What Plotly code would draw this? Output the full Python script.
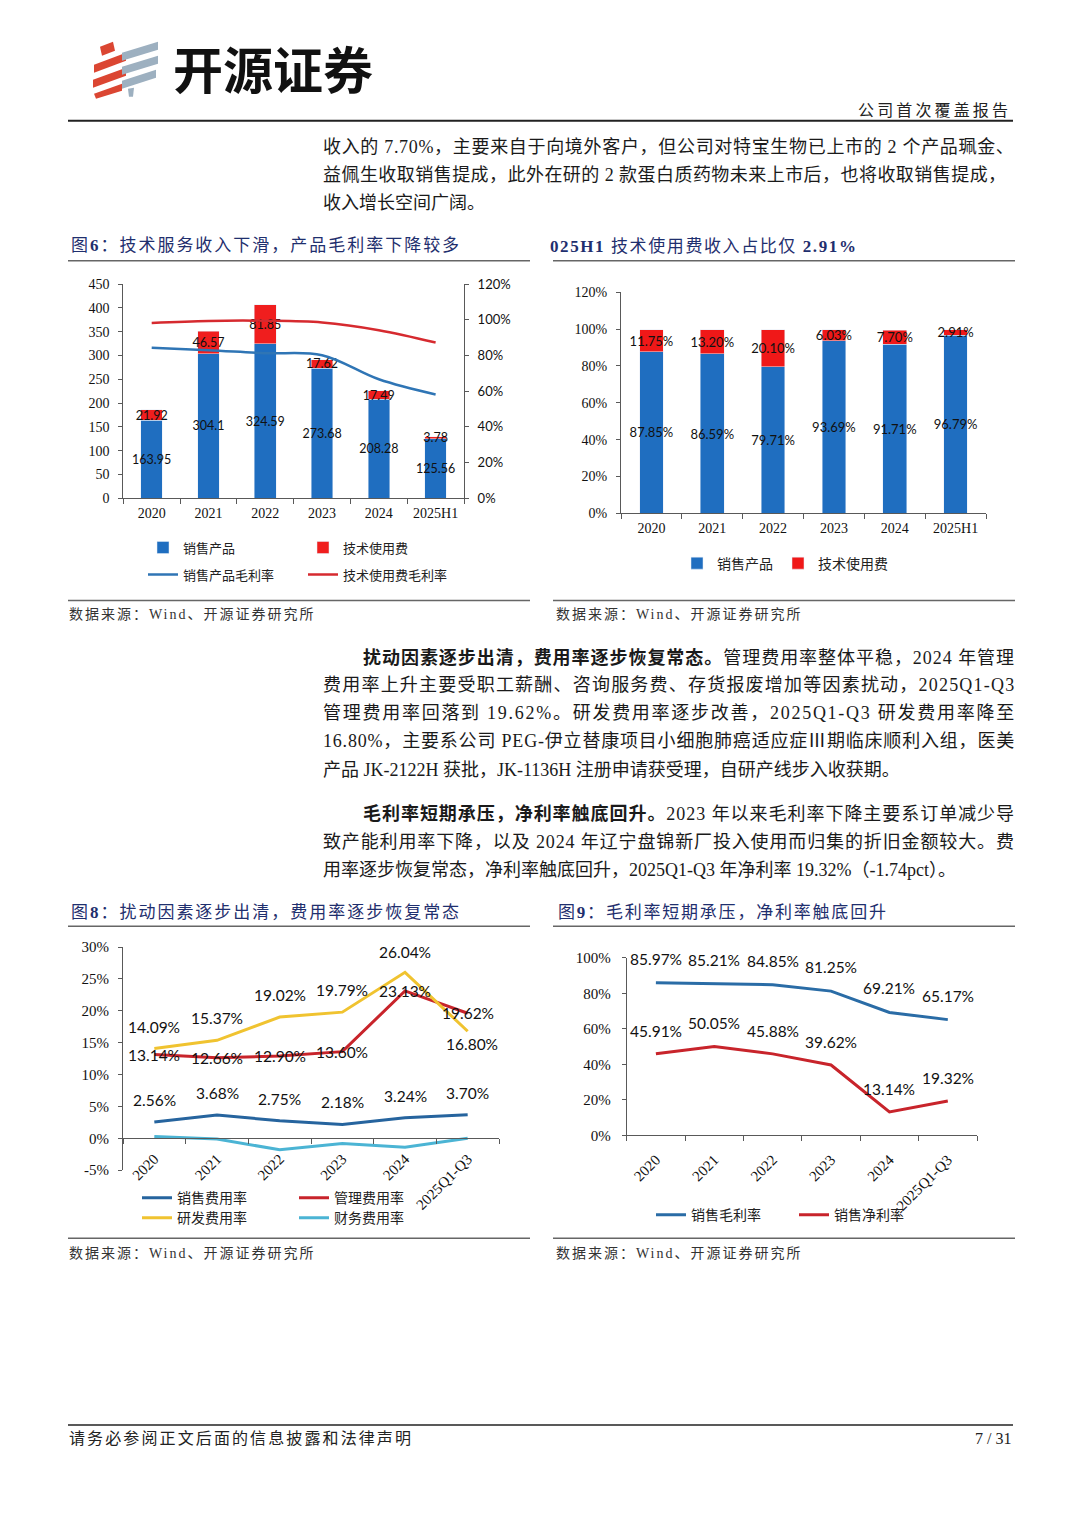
import re
import plotly.graph_objects as go

W, H = 1080, 1527
# vertical calibration of the rendered page (measured offset/scale of the capture)
Y_OFF, Y_SCALE = 7.2, 0.990
def px(x): return x / W
def py(y): return 1 - ((y - Y_OFF) / Y_SCALE) / H

SERIF = "Liberation Serif, Noto Sans CJK SC"
CJK = "Noto Sans CJK SC"
SANS = "Lato, Noto Sans CJK SC"
NAVY = "#1F2F6E"
AX = "#595959"
TXT = "#1a1a1a"

# ---------------- data ----------------
years6 = ['2020', '2021', '2022', '2023', '2024', '2025H1']
prod_rev = [163.95, 304.1, 324.59, 273.68, 208.28, 125.56]
tech_rev = [21.92, 46.57, 81.85, 17.62, 17.49, 3.78]
prod_gm = [84.4, 83.0, 81.3, 80.2, 66.7, 58.2]
tech_gm = [98.3, 99.4, 99.5, 98.5, 94.2, 87.3]

prod_share = [87.85, 86.59, 79.71, 93.69, 91.71, 96.79]
tech_share = [11.75, 13.20, 20.10, 6.03, 7.70, 2.91]

years8 = ['2020', '2021', '2022', '2023', '2024', '2025Q1-Q3']
sales_exp = [2.56, 3.68, 2.75, 2.18, 3.24, 3.70]
admin_exp = [13.14, 12.66, 12.90, 13.60, 23.13, 19.62]
rd_exp = [14.09, 15.37, 19.02, 19.79, 26.04, 16.80]
fin_exp = [0.3, -0.1, -1.8, -0.8, -1.4, 0.0]

gross_margin = [85.97, 85.21, 84.85, 81.25, 69.21, 65.17]
net_margin = [45.91, 50.05, 45.88, 39.62, 13.14, 19.32]

c6_left_vals = [0, 50, 100, 150, 200, 250, 300, 350, 400, 450]
c6_left_text = ['0', '50', '100', '150', '200', '250', '300', '350', '400', '450']
c6_right_vals = [0, 20, 40, 60, 80, 100, 120]
c6_right_text = ['0%', '20%', '40%', '60%', '80%', '100%', '120%']
c7_vals = [0, 20, 40, 60, 80, 100, 120]
c7_text = ['0%', '20%', '40%', '60%', '80%', '100%', '120%']
c8_vals = [-5, 0, 5, 10, 15, 20, 25, 30]
c8_text = ['-5%', '0%', '5%', '10%', '15%', '20%', '25%', '30%']
c9_vals = [0, 20, 40, 60, 80, 100]
c9_text = ['0%', '20%', '40%', '60%', '80%', '100%']

# ---------------- helpers ----------------
def text_width(s, size):
    s = re.sub(r'<[^>]+>', '', s)
    w = 0.0
    for ch in s:
        o = ord(ch)
        if o >= 0x2100: w += 1.0
        elif ch.isdigit(): w += 0.5
        elif ch in ' .,:;': w += 0.25
        elif ch == '%': w += 0.833
        elif ch in '-()': w += 0.333
        elif ch == 'J': w += 0.389
        elif ch == 'P': w += 0.556
        elif ch == 'E': w += 0.611
        elif ch == 'W': w += 0.944
        elif ch.isupper(): w += 0.722
        elif ch in 'ilt': w += 0.278
        elif ch == 'm': w += 0.778
        else: w += 0.5
    return w * size, len(s)

def spaced(s, size, target):
    w, n = text_width(s, size)
    ls = (target - w) / max(n - 1, 1)
    return f'<span style="letter-spacing:{ls:.2f}px">{s}</span>'

fig = go.Figure()

def add_text(x, y, text, size, family=SERIF, color=TXT, xanchor='left', target=None):
    if target:
        text = spaced(text, size, target)
    fig.add_annotation(x=px(x), y=py(y), xref='paper', yref='paper', text=text,
                       showarrow=False, xanchor=xanchor, yanchor='middle', align='left',
                       borderpad=0, font=dict(family=family, size=size, color=color))

def hline(x0, x1, y, color='#333', width=1.5):
    fig.add_shape(type='line', xref='paper', yref='paper', x0=px(x0), x1=px(x1),
                  y0=py(y), y1=py(y), line=dict(color=color, width=width))

def poly(points, color):
    d = 'M' + ' L'.join(f'{px(a):.5f},{py(b):.5f}' for a, b in points) + ' Z'
    fig.add_shape(type='path', xref='paper', yref='paper', path=d,
                  fillcolor=color, line=dict(width=0))

# ---------------- chart 6 ----------------
lbl6 = dict(family=SANS, size=12.5, color='#111')
fig.add_trace(go.Bar(x=years6, y=prod_rev, name='销售产品', marker_color='#1F6EC0', width=0.38,
                     text=[str(v) for v in prod_rev], textposition='inside', insidetextanchor='middle',
                     textangle=0, constraintext='none', textfont=lbl6,
                     xaxis='x', yaxis='y', legend='legend'))
fig.add_trace(go.Bar(x=years6, y=tech_rev, name='技术使用费', marker_color='#F01E1E', width=0.38,
                     text=[str(v) for v in tech_rev], textposition='inside', insidetextanchor='middle',
                     textangle=0, constraintext='none', textfont=lbl6,
                     xaxis='x', yaxis='y', legend='legend'))
fig.add_trace(go.Scatter(x=years6, y=prod_gm, name='销售产品毛利率', mode='lines',
                         line=dict(color='#2F75B5', width=2.5, shape='spline'),
                         xaxis='x', yaxis='y2', legend='legend2'))
fig.add_trace(go.Scatter(x=years6, y=tech_gm, name='技术使用费毛利率', mode='lines',
                         line=dict(color='#D62A2F', width=2.5, shape='spline'),
                         xaxis='x', yaxis='y2', legend='legend2'))

# ---------------- chart 7 ----------------
lbl7 = dict(family=SANS, size=13, color='#111')
fig.add_trace(go.Bar(x=years6, y=prod_share, name='销售产品', marker_color='#1F6EC0', width=0.39,
                     text=[f'{v:.2f}%' for v in prod_share], textposition='inside',
                     insidetextanchor='middle', textangle=0, constraintext='none', textfont=lbl7,
                     xaxis='x2', yaxis='y3', legend='legend3'))
fig.add_trace(go.Bar(x=years6, y=tech_share, name='技术使用费', marker_color='#F01818', width=0.39,
                     text=[f'{v:.2f}%' for v in tech_share], textposition='inside',
                     insidetextanchor='middle', textangle=0, constraintext='none', textfont=lbl7,
                     xaxis='x2', yaxis='y3', legend='legend3'))

# ---------------- chart 8 ----------------
fig.add_trace(go.Scatter(x=years8, y=sales_exp, name='销售费用率', mode='lines',
                         line=dict(color='#26649E', width=3), xaxis='x3', yaxis='y4', legend='legend4'))
fig.add_trace(go.Scatter(x=years8, y=admin_exp, name='管理费用率', mode='lines',
                         line=dict(color='#C8242B', width=3), xaxis='x3', yaxis='y4', legend='legend4'))
fig.add_trace(go.Scatter(x=years8, y=rd_exp, name='研发费用率', mode='lines',
                         line=dict(color='#F0C330', width=3), xaxis='x3', yaxis='y4', legend='legend5'))
fig.add_trace(go.Scatter(x=years8, y=fin_exp, name='财务费用率', mode='lines',
                         line=dict(color='#4BB4D4', width=3), xaxis='x3', yaxis='y4', legend='legend5'))

# ---------------- chart 9 ----------------
fig.add_trace(go.Scatter(x=years8, y=gross_margin, name='销售毛利率', mode='lines',
                         line=dict(color='#2A6CA6', width=3), xaxis='x4', yaxis='y5', legend='legend6'))
fig.add_trace(go.Scatter(x=years8, y=net_margin, name='销售净利率', mode='lines',
                         line=dict(color='#C8242B', width=3), xaxis='x4', yaxis='y5', legend='legend6'))

# point labels (placed via axis data coordinates; category index on x)
lblfont = dict(family=SANS, size=15.5, color='#111')
def point_labels(ys, xref, yref, yshifts, xshifts=None):
    for i, y in enumerate(ys):
        fig.add_annotation(x=i, y=y, xref=xref, yref=yref, text=f'{y:.2f}%', showarrow=False,
                           yshift=yshifts[i], xshift=(xshifts[i] if xshifts else 0), font=lblfont)

point_labels(rd_exp, 'x3', 'y4', [22, 22, 22, 22, 20, -13], [0, 0, 0, 0, 0, 4])
point_labels(admin_exp, 'x3', 'y4', [0, 0, 0, 0, 0, 0])
point_labels(sales_exp, 'x3', 'y4', [22, 22, 22, 22, 22, 22])
point_labels(gross_margin, 'x4', 'y5', [24] * 6)
point_labels(net_margin, 'x4', 'y5', [23] * 6)

# ---------------- axes ----------------
def xcat(domain, anchor, angle=0, size=14, position=None, standoff=2):
    d = dict(domain=domain, type='category', range=[-0.5, 5.5], showline=True, linecolor=AX,
             linewidth=1, ticks='outside', tickson='boundaries', ticklen=5, tickcolor=AX,
             tickfont=dict(family=SERIF, size=size, color='#111'), showgrid=False, zeroline=False,
             tickangle=angle, fixedrange=True, ticklabelstandoff=standoff)
    if position is not None:
        d.update(anchor='free', position=position)
    else:
        d.update(anchor=anchor)
    return d

def yax(domain, anchor, rng, vals, text, family=SERIF, size=14, side='left', standoff=6):
    return dict(domain=domain, anchor=anchor, range=rng, tickvals=vals, ticktext=text,
                showline=True, linecolor=AX, linewidth=1, ticks='outside', ticklen=4,
                tickcolor=AX, tickfont=dict(family=family, size=size, color='#111'),
                showgrid=False, zeroline=False, side=side, ticklabelstandoff=standoff,
                fixedrange=True)

d6y = [py(497.7), py(283.5)]
d7y = [py(512.7), py(291.7)]
d8y = [py(1170), py(946.7)]
d9y = [py(1135), py(957.5)]
zero8 = d8y[0] + (0 - (-5)) / 35 * (d8y[1] - d8y[0])

layout = dict(
    width=W, height=H, autosize=False, margin=dict(l=0, r=0, t=0, b=0),
    paper_bgcolor='white', plot_bgcolor='white', barmode='stack', bargap=0.6,
    xaxis=xcat([px(123.3), px(464)], 'y'),
    yaxis=yax(d6y, 'x', [0, 450], c6_left_vals, c6_left_text),
    yaxis2=dict(yax(d6y, 'x', [0, 120], c6_right_vals, c6_right_text, family=SANS, size=13,
                    side='right'), overlaying='y'),
    xaxis2=xcat([px(621), px(986)], 'y3'),
    yaxis3=yax(d7y, 'x2', [0, 120], c7_vals, c7_text),
    xaxis3=xcat([px(123), px(499)], None, angle=-45, size=15, position=zero8, standoff=5),
    yaxis4=yax(d8y, 'x3', [-5, 30], c8_vals, c8_text, size=15),
    xaxis4=xcat([px(626.7), px(977)], 'y5', angle=-45, size=15, standoff=9),
    yaxis5=yax(d9y, 'x4', [0, 100], c9_vals, c9_text, size=15, standoff=8),
    showlegend=True,
)

def leg(x, y, entry, size=13):
    d = dict(orientation='h', x=px(x), y=py(y), xanchor='left', yanchor='middle',
             bgcolor='rgba(0,0,0,0)', font=dict(family=CJK, size=size, color='#222'),
             itemwidth=30, traceorder='normal', tracegroupgap=0)
    if entry:
        d.update(entrywidth=entry, entrywidthmode='pixels')
    return d

layout['legend'] = leg(143, 547, 115)
layout['legend2'] = leg(143, 574, 115)
layout['legend3'] = leg(677, 563, None, 14)
layout['legend4'] = leg(137, 1198, 112, 14)
layout['legend5'] = leg(137, 1218, 112, 14)
layout['legend6'] = leg(651, 1215, 98, 14)
fig.update_layout(**layout)

# ---------------- page furniture ----------------
# logo
RED, GRY = '#DB4632', '#9DB0C0'
poly([(100, 46), (113, 41), (115, 50), (102, 55)], RED)
poly([(94, 64), (126, 52), (126, 60), (94, 72)], RED)
poly([(93, 79), (126, 67), (126, 75), (93, 87)], RED)
poly([(94, 93), (122, 83), (122, 90), (96, 98)], RED)
poly([(122, 52), (158, 41), (158, 49), (122, 60)], GRY)
poly([(122, 66), (158, 55), (158, 63), (122, 74)], GRY)
poly([(122, 80), (156, 69), (156, 77), (122, 88)], GRY)
poly([(128, 88), (134, 87), (133, 96), (129, 96)], GRY)
add_text(172, 66, '<b>开源证券</b>', 50, family=CJK, color='#111')
add_text(857, 108, '公司首次覆盖报告', 16, family=CJK, color='#222', target=150)
hline(68, 1013, 120, '#222', 2)

# paragraph 1
R = 1013
add_text(322, 146, '收入的 7.70%，主要来自于向境外客户，但公司对特宝生物已上市的 2 个产品珮金、', 18, target=R - 322)
add_text(322, 174, '益佩生收取销售提成，此外在研的 2 款蛋白质药物未来上市后，也将收取销售提成，', 18, target=R - 322 - 8)
add_text(322, 202, '收入增长空间广阔。', 18)

# chart titles / rules
add_text(70, 245, '图<b>6</b>：技术服务收入下滑，产品毛利率下降较多', 17, color=NAVY, target=388)
add_text(549, 245, '<b>025H1</b> 技术使用费收入占比仅 <b>2.91%</b>', 17, color=NAVY, target=302)
hline(68, 530, 260, '#666', 1.5)
hline(553, 1015, 260, '#666', 1.5)
hline(68, 530, 600, '#666', 1.5)
hline(553, 1015, 600, '#666', 1.5)
add_text(68, 614, '数据来源：Wind、开源证券研究所', 14, color='#333', target=245)
add_text(555, 614, '数据来源：Wind、开源证券研究所', 14, color='#333', target=245)

# paragraph 2
add_text(362, 657, '<b>扰动因素逐步出清，费用率逐步恢复常态。</b>管理费用率整体平稳，2024 年管理', 18, target=R - 362)
add_text(322, 685, '费用率上升主要受职工薪酬、咨询服务费、存货报废增加等因素扰动，2025Q1-Q3', 18, target=R - 322)
add_text(322, 713, '管理费用率回落到 19.62%。研发费用率逐步改善，2025Q1-Q3 研发费用率降至', 18, target=R - 322)
add_text(322, 741, '16.80%，主要系公司 PEG-伊立替康项目小细胞肺癌适应症Ⅲ期临床顺利入组，医美', 18, target=R - 322)
add_text(322, 770, '产品 JK-2122H 获批，JK-1136H 注册申请获受理，自研产线步入收获期。', 18)

# paragraph 3
add_text(362, 813, '<b>毛利率短期承压，净利率触底回升。</b>2023 年以来毛利率下降主要系订单减少导', 18, target=R - 362)
add_text(322, 842, '致产能利用率下降，以及 2024 年辽宁盘锦新厂投入使用而归集的折旧金额较大。费', 18, target=R - 322)
add_text(322, 870, '用率逐步恢复常态，净利率触底回升，2025Q1-Q3 年净利率 19.32%（-1.74pct）。', 18)

add_text(70, 912, '图<b>8</b>：扰动因素逐步出清，费用率逐步恢复常态', 17, color=NAVY, target=388)
add_text(557, 912, '图<b>9</b>：毛利率短期承压，净利率触底回升', 17, color=NAVY, target=328)
hline(68, 530, 926, '#666', 1.5)
hline(553, 1015, 926, '#666', 1.5)
hline(68, 530, 1238, '#666', 1.5)
hline(553, 1015, 1238, '#666', 1.5)
add_text(68, 1253, '数据来源：Wind、开源证券研究所', 14, color='#333', target=245)
add_text(555, 1253, '数据来源：Wind、开源证券研究所', 14, color='#333', target=245)

# footer
hline(68, 1013, 1425, '#222', 1.5)
add_text(68, 1438, '请务必参阅正文后面的信息披露和法律声明', 16, color='#222', target=342)
add_text(1012, 1438, '7 / 31', 16, color='#222', xanchor='right')

fig.write_html(
    "out.html",
    config={'displayModeBar': False},
    post_script=("document.body.style.margin='0';"
                 "var d=document.getElementsByClassName('plotly-graph-div')[0];"
                 "d.style.position='fixed';d.style.left='0px';d.style.top='0px';"),
)
